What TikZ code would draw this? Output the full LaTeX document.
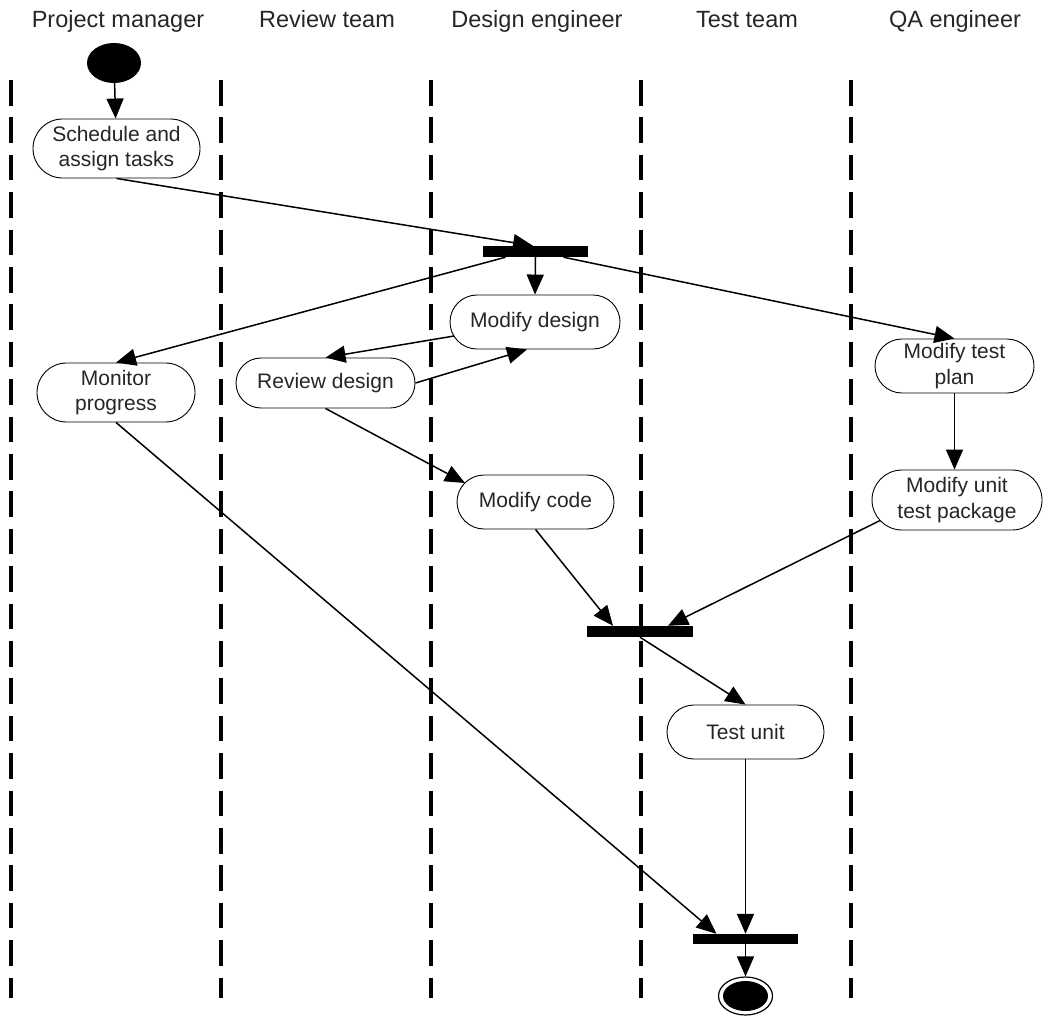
\documentclass[tikz,border=0pt]{standalone}
\usepackage{fontspec}
\setmainfont{Liberation Sans}
\usetikzlibrary{shapes.geometric,arrows.meta}
\begin{document}
\begin{tikzpicture}[x=1pt,y=-1pt,
  lanehead/.style={font=\fontsize{23.5}{28}\selectfont, text=black!85, anchor=base, inner sep=0pt},
  activity/.style 2 args={rectangle, draw=black, line width=0.9pt, fill=white,
    minimum width=#1, minimum height=#2, rounded corners=#2/2,
    inner sep=0pt, align=center,
    font=\fontsize{21}{25.5}\selectfont, text=black!85},
  syncbar/.style={rectangle, fill=black, inner sep=0pt, minimum width=105pt, minimum height=11pt},
  flow/.style={line width=1.5pt, -{Triangle[length=20pt,width=17pt]}},
  divider/.style={line width=3.2pt, dash pattern=on 25.5pt off 11.9pt}]

% canvas
\fill[white] (0,0) rectangle (1051,1015);
\useasboundingbox (0,0) rectangle (1051,1015);

% swimlane headers
\node[lanehead] (hpm) at (118,27) {Project manager};
\node[lanehead] (hrt) at (327,27) {Review team};
\node[lanehead] (hde) at (537,27) {Design engineer};
\node[lanehead] (htt) at (747,27) {Test team};
\node[lanehead] (hqa) at (955,27) {QA engineer};

% swimlane dividers
\foreach \lx in {11,221,431,641,851}
  \draw[divider] (\lx,80) -- (\lx,998);

% initial node
\node[ellipse, fill=black, minimum width=54pt, minimum height=40pt, inner sep=0pt] (start) at (114,63) {};

% activities
\node[activity={167pt}{59pt}] (schedule) at (116.5,148.5) {Schedule and\\assign tasks};
\node[syncbar] (fork1) at (535.5,251.5) {};
\node[activity={170pt}{54pt}] (moddes) at (535,322) {Modify design};
\node[activity={179pt}{50pt}] (review) at (325.5,383) {Review design};
\node[activity={158pt}{59pt}] (monitor) at (116,392.5) {Monitor\\progress};
\node[activity={159pt}{54pt}] (modtest) at (954.5,366) {Modify test\\plan};
\node[activity={170pt}{60pt}] (modunit) at (957,500) {Modify unit\\test package};
\node[activity={157pt}{54pt}] (modcode) at (535.5,502) {Modify code};
\node[syncbar, minimum width=106pt] (join1) at (640,631.5) {};
\node[activity={157pt}{54pt}] (testunit) at (745.5,732) {Test unit};
\node[syncbar, minimum height=10pt] (join2) at (745.5,939) {};

% final node
\node[ellipse, draw=black, line width=1.2pt, fill=white, minimum width=54pt, minimum height=38pt, inner sep=0pt] (final) at (745.5,996) {};
\node[ellipse, fill=black, minimum width=45pt, minimum height=30pt, inner sep=0pt] (finalcore) at (final) {};

% control flow
\draw[flow] (start) -- (schedule);
\draw[flow] (schedule.south) -- ([xshift=-2.5pt]fork1.north);
\draw[flow] (fork1.south) -- (moddes.north);
\draw[flow] ([xshift=-30pt]fork1.south) -- (monitor.north);
\draw[flow] ([xshift=28pt]fork1.south) -- (modtest.north);
\draw[flow] ([xshift=-81pt,yshift=-14pt]moddes.center) -- (review.north);
\draw[flow] (review.east) -- ([xshift=-8pt]moddes.south);
\draw[flow] (review.south) -- ([xshift=-70.5pt,yshift=19pt]modcode.center);
\draw[flow] (modtest.south) -- (modtest.south |- modunit.north);
\draw[flow] (modcode.south) -- ([xshift=-27pt]join1.north);
\draw[flow] ([xshift=-77pt,yshift=-20.5pt]modunit.center) -- ([xshift=28pt]join1.north);
\draw[flow] (join1.south) -- (testunit.north);
\draw[flow] (monitor.south) -- ([xshift=-29pt]join2.north);
\draw[flow] (testunit.south) -- (join2.north);
\draw[flow] (join2.south) -- (final.north);
\end{tikzpicture}
\end{document}
